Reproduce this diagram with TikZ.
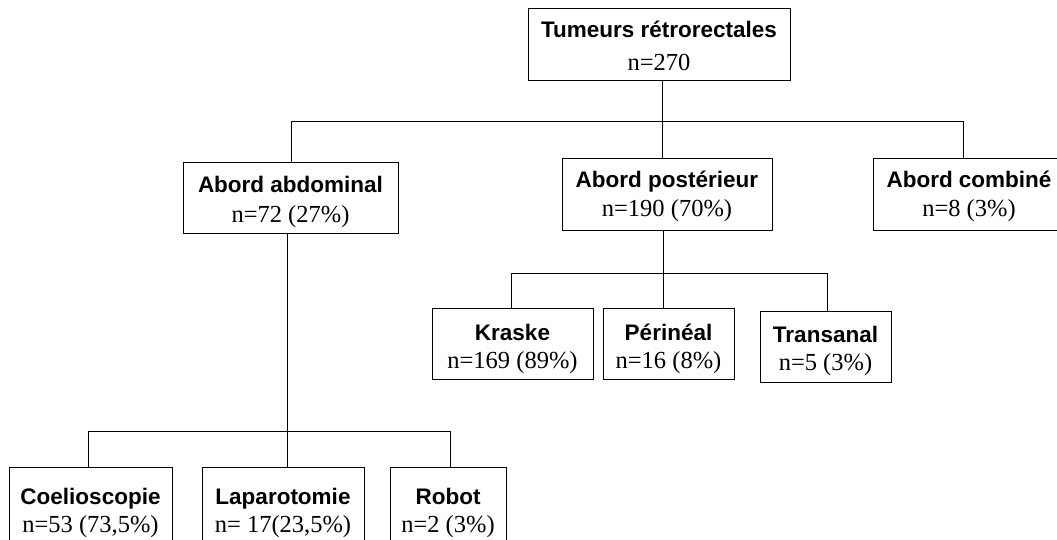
\documentclass[tikz,border=0pt]{standalone}
\usepackage{fontspec}
\setmainfont{Liberation Serif}
\setsansfont{Liberation Sans}
\tikzset{
  box/.style={draw=black, line width=0.9pt, inner sep=0pt},
  ttl/.style={font=\sffamily\bfseries\fontsize{22.5}{27}\selectfont, inner sep=0pt, anchor=base},
  num/.style={font=\fontsize{24.5}{29}\selectfont, inner sep=0pt, anchor=base},
  link/.style={line width=0.9pt, draw=black}
}
% name x1 y1 x2 y2 title num titleoffset numoffset
\newcommand\mkbox[9]{%
  \pgfmathsetmacro\bxw{#4-#2}\pgfmathsetmacro\bxh{#5-#3}%
  \pgfmathsetmacro\bxx{(#2+#4)/2}\pgfmathsetmacro\bxy{(#3+#5)/2}%
  \node[box, minimum width=\bxw pt, minimum height=\bxh pt] (#1) at (\bxx,\bxy) {};
  \node[ttl] (#1t) at (\bxx,{#3+#8}) {#6};
  \node[num] (#1n) at (\bxx,{#3+#9}) {#7};
}
\begin{document}
\begin{tikzpicture}[x=1pt,y=-1pt]
\useasboundingbox (0,0) rectangle (1057,539);
\clip (0,0) rectangle (1057,539);
\mkbox{top}{528}{8}{790}{80}{Tumeurs rétrorectales}{n=270}{29}{62}
\mkbox{abd}{183}{162}{398}{233}{Abord abdominal}{n=72 (27\%)}{30}{60}
\mkbox{post}{562}{158}{772}{230}{Abord postérieur}{n=190 (70\%)}{29}{58}
\mkbox{comb}{873}{158}{1065}{230}{Abord combiné}{n=8 (3\%)}{29}{58}
\mkbox{kra}{432}{308}{593}{379}{Kraske}{n=169 (89\%)}{32}{60}
\mkbox{per}{603}{308}{734}{379}{Périnéal}{n=16 (8\%)}{32}{60}
\mkbox{tra}{760}{311}{891}{382}{Transanal}{n=5 (3\%)}{31}{59}
\mkbox{coe}{9}{467}{172}{545}{Coelioscopie}{n=53 (73,5\%)}{37}{65}
\mkbox{lap}{202}{467}{364}{545}{Laparotomie}{n= 17(23,5\%)}{37}{65}
\mkbox{rob}{390}{467}{506}{545}{Robot}{n=2 (3\%)}{37}{65}
% junctions
\coordinate (jA) at (662,121);
\coordinate (jL) at (291,121);
\coordinate (jR) at (963,121);
\coordinate (pA) at (663,273);
\coordinate (pL) at (511,273);
\coordinate (pR) at (827,273);
\coordinate (aA) at (287,431);
\coordinate (aL) at (88,431);
\coordinate (aR) at (450,431);
% connectors
\draw[link] (jA |- top.south) -- (jA |- post.north);
\draw[link] (jL |- abd.north) -- (jL) -- (jR) -- (jR |- comb.north);
\draw[link] (pA |- post.south) -- (pA |- per.north);
\draw[link] (pL |- kra.north) -- (pL) -- (pR) -- (pR |- tra.north);
\draw[link] (aA |- abd.south) -- (aA |- lap.north);
\draw[link] (aL |- coe.north) -- (aL) -- (aR) -- (aR |- rob.north);
\end{tikzpicture}
\end{document}
